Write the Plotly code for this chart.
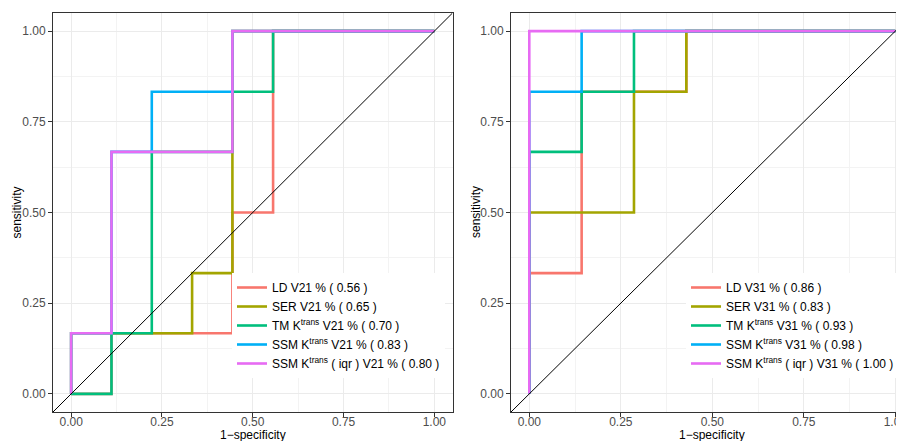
import plotly.graph_objects as go

# ---------------- data ----------------
COLORS = ["#F8766D", "#A3A500", "#00BF7D", "#00B0F6", "#E76BF3"]

LABELS_V21 = ["LD V21 % ( 0.56 )", "SER V21 % ( 0.65 )",
              "TM K<sup>trans</sup> V21 % ( 0.70 )",
              "SSM K<sup>trans</sup> V21 % ( 0.83 )",
              "SSM K<sup>trans</sup> ( iqr ) V21 % ( 0.80 )"]
LABELS_V31 = ["LD V31 % ( 0.86 )", "SER V31 % ( 0.83 )",
              "TM K<sup>trans</sup> V31 % ( 0.93 )",
              "SSM K<sup>trans</sup> V31 % ( 0.98 )",
              "SSM K<sup>trans</sup> ( iqr ) V31 % ( 1.00 )"]

# V21 ROC curves (1-specificity, sensitivity)
LD21_fpr = [0, 0.111, 0.111, 0.444, 0.444, 0.556, 0.556, 1.0]
LD21_sen = [0, 0, 0.167, 0.167, 0.5, 0.5, 1.0, 1.0]
SER21_fpr = [0, 0, 0.333, 0.333, 0.444, 0.444, 1.0]
SER21_sen = [0, 0.167, 0.167, 0.333, 0.333, 1.0, 1.0]
TM21_fpr = [0, 0.111, 0.111, 0.222, 0.222, 0.444, 0.444, 0.556, 0.556, 1.0]
TM21_sen = [0, 0, 0.167, 0.167, 0.667, 0.667, 0.833, 0.833, 1.0, 1.0]
SSM21_fpr = [0, 0, 0.111, 0.111, 0.222, 0.222, 0.444, 0.444, 1.0]
SSM21_sen = [0, 0.167, 0.167, 0.667, 0.667, 0.833, 0.833, 1.0, 1.0]
IQR21_fpr = [0, 0, 0.111, 0.111, 0.444, 0.444, 1.0]
IQR21_sen = [0, 0.167, 0.167, 0.667, 0.667, 1.0, 1.0]

# V31 ROC curves
LD31_fpr = [0, 0, 0.143, 0.143, 0.429, 0.429, 1.0]
LD31_sen = [0, 0.333, 0.333, 0.833, 0.833, 1.0, 1.0]
SER31_fpr = [0, 0, 0.286, 0.286, 0.429, 0.429, 1.0]
SER31_sen = [0, 0.5, 0.5, 0.833, 0.833, 1.0, 1.0]
TM31_fpr = [0, 0, 0.143, 0.143, 0.286, 0.286, 1.0]
TM31_sen = [0, 0.667, 0.667, 0.833, 0.833, 1.0, 1.0]
SSM31_fpr = [0, 0, 0.143, 0.143, 1.0]
SSM31_sen = [0, 0.833, 0.833, 1.0, 1.0]
IQR31_fpr = [0, 0, 1.0]
IQR31_sen = [0, 1.0, 1.0]

DIAG = [-0.05, 1.05]
TICKS = [0, 0.25, 0.5, 0.75, 1.0]
TICK_TEXT = ["0.00", "0.25", "0.50", "0.75", "1.00"]

V21 = [(LD21_fpr, LD21_sen), (SER21_fpr, SER21_sen), (TM21_fpr, TM21_sen),
       (SSM21_fpr, SSM21_sen), (IQR21_fpr, IQR21_sen)]
V31 = [(LD31_fpr, LD31_sen), (SER31_fpr, SER31_sen), (TM31_fpr, TM31_sen),
       (SSM31_fpr, SSM31_sen), (IQR31_fpr, IQR31_sen)]

FONT = "Liberation Sans, Arial, sans-serif"

fig = go.Figure()

for (fx, sy_), lab, col in zip(V21, LABELS_V21, COLORS):
    fig.add_trace(go.Scatter(x=fx, y=sy_, mode="lines", name=lab,
                             line=dict(color=col, width=2.6),
                             xaxis="x", yaxis="y", legend="legend"))
fig.add_trace(go.Scatter(x=DIAG, y=DIAG, mode="lines", showlegend=False,
                         line=dict(color="black", width=1), hoverinfo="skip",
                         xaxis="x", yaxis="y"))

for (fx, sy_), lab, col in zip(V31, LABELS_V31, COLORS):
    fig.add_trace(go.Scatter(x=fx, y=sy_, mode="lines", name=lab,
                             line=dict(color=col, width=2.6),
                             xaxis="x2", yaxis="y2", legend="legend2"))
fig.add_trace(go.Scatter(x=DIAG, y=DIAG, mode="lines", showlegend=False,
                         line=dict(color="black", width=1), hoverinfo="skip",
                         xaxis="x2", yaxis="y2"))

# page body has an 8px margin -> figure drawn at (8, 8) on screen
OFF = 8
SW, SH = 904, 441
W, H = SW - OFF, SH - OFF
ML, MT = 53 - OFF, 13 - OFF
MR, MB = 0, SH - 412
PW = W - ML - MR
PH = H - MT - MB


def sx(p):  # screen x pixel -> paper fraction
    return (p - OFF - ML) / PW


def sy(p):  # screen y pixel -> paper fraction
    return (SH - MB - p) / PH


axis_common = dict(
    automargin=False,
    tickmode="array", tickvals=TICKS, ticktext=TICK_TEXT,
    ticks="outside", ticklen=4, tickwidth=1, tickcolor="#333333",
    tickfont=dict(family=FONT, size=12, color="#4D4D4D"),
    showline=True, linecolor="#333333", linewidth=1,
    showgrid=True, gridcolor="#EBEBEB", gridwidth=1,
    zeroline=False,
    minor=dict(tickmode="linear", tick0=0.125, dtick=0.25, showgrid=True,
               gridcolor="#F3F3F3", gridwidth=1, ticks=""),
)

LEG_FONT = dict(family=FONT, size=12, color="black")

fig.update_layout(
    width=W, height=H,
    margin=dict(l=ML, r=MR, t=MT, b=MB, autoexpand=False),
    paper_bgcolor="white", plot_bgcolor="white",
    font=dict(family=FONT, size=12, color="black"),
    xaxis=dict(axis_common, domain=[0, sx(452.5)], range=[-0.05, 1.05],
               mirror=True, anchor="y", ticklabelstandoff=-5),
    yaxis=dict(axis_common, domain=[0, 1], range=[-0.05, 1.05], mirror=True,
               anchor="x"),
    xaxis2=dict(axis_common, domain=[sx(511), 1],
                range=[-0.05, -0.05 + (SW - 511) / 366.0],
                mirror=True, anchor="y2", ticklabeloverflow="allow",
                ticklabelstandoff=-5),
    yaxis2=dict(axis_common, domain=[0, 1], range=[-0.05, 1.05], mirror=False,
                anchor="x2"),
    legend=dict(x=sx(232), y=sy(273), xanchor="left", yanchor="top",
                bgcolor="white", borderwidth=0, font=LEG_FONT,
                tracegroupgap=0),
    legend2=dict(x=sx(686), y=sy(273), xanchor="left", yanchor="top",
                 bgcolor="white", borderwidth=0, font=LEG_FONT,
                 tracegroupgap=0),
    annotations=[
        dict(text="1\u2212specificity", xref="x", x=0.5, yref="paper",
             y=sy(435), yanchor="middle", xanchor="center", showarrow=False,
             font=dict(family=FONT, size=12, color="black")),
        dict(text="1\u2212specificity", xref="x2", x=0.5, yref="paper",
             y=sy(435), yanchor="middle", xanchor="center", showarrow=False,
             font=dict(family=FONT, size=12, color="black")),
        dict(text="sensitivity", xref="paper", x=sx(16), yref="paper",
             y=sy(212.5), xanchor="center", yanchor="middle", textangle=-90,
             showarrow=False, font=dict(family=FONT, size=12, color="black")),
        dict(text="sensitivity", xref="paper", x=sx(475.5), yref="paper",
             y=sy(212.5), xanchor="center", yanchor="middle", textangle=-90,
             showarrow=False, font=dict(family=FONT, size=12, color="black")),
    ],
    showlegend=True,
)

fig.write_html("out.html")
